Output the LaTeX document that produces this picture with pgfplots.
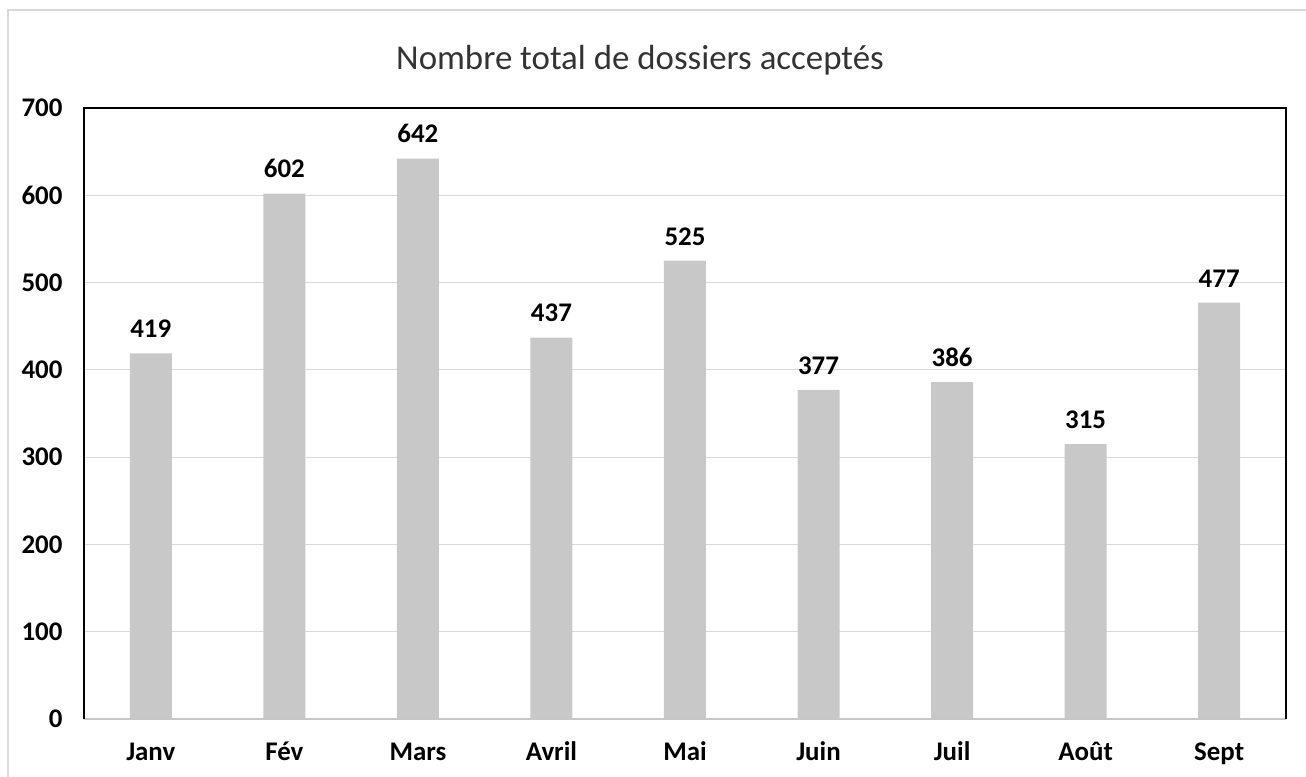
\documentclass[border=0pt]{standalone}
\usepackage{pgfplots}
\pgfplotsset{compat=1.18}
\usepackage{fontspec}
\setmainfont{Carlito}
\definecolor{barc}{RGB}{200,200,200}
\definecolor{gridc}{RGB}{217,217,217}
\definecolor{framec}{RGB}{217,217,217}
\begin{document}
\begin{tikzpicture}[x=1bp,y=1bp]
\useasboundingbox (0,0) rectangle (1306,776);
\draw[framec,line width=2bp] (8,-20) -- (8,766) -- (1330,766);
\node[font=\fontsize{35}{40}\selectfont, text=black!80] at (640,716) {Nombre total de dossiers acceptés};
\begin{axis}[
  at={(84bp,57bp)}, anchor=south west,
  scale only axis, width=1202bp, height=611bp,
  xmin=-0.5, xmax=8.5, ymin=0, ymax=700,
  ytick={0,100,...,700},
  xtick={0,...,8},
  xticklabels={Janv,Fév,Mars,Avril,Mai,Juin,Juil,Août,Sept},
  major tick length=0pt,
  ymajorgrids, grid style={gridc,line width=1.2bp},
  axis line style={draw=none},
  ticklabel style={font=\fontsize{27}{30}\selectfont\bfseries},
  yticklabel style={xshift=-18bp},
  xticklabel style={anchor=base, yshift=-41bp},
  /pgf/number format/assume math mode=true,
  ybar, bar width=42bp,
  nodes near coords,
  every node near coord/.append style={font=\fontsize{27}{30}\selectfont\bfseries, yshift=12bp},
  clip=false,
]
\addplot[fill=barc, draw=none] coordinates {(0,419) (1,602) (2,642) (3,437) (4,525) (5,377) (6,386) (7,315) (8,477)};
\draw[gridc!80!gray, line width=1.5bp] (rel axis cs:0,0) -- (rel axis cs:1,0);
\draw[black, line width=1.8bp] (rel axis cs:0,0) -- (rel axis cs:0,1) -- (rel axis cs:1,1) -- (rel axis cs:1,0);
\end{axis}
\end{tikzpicture}
\end{document}
